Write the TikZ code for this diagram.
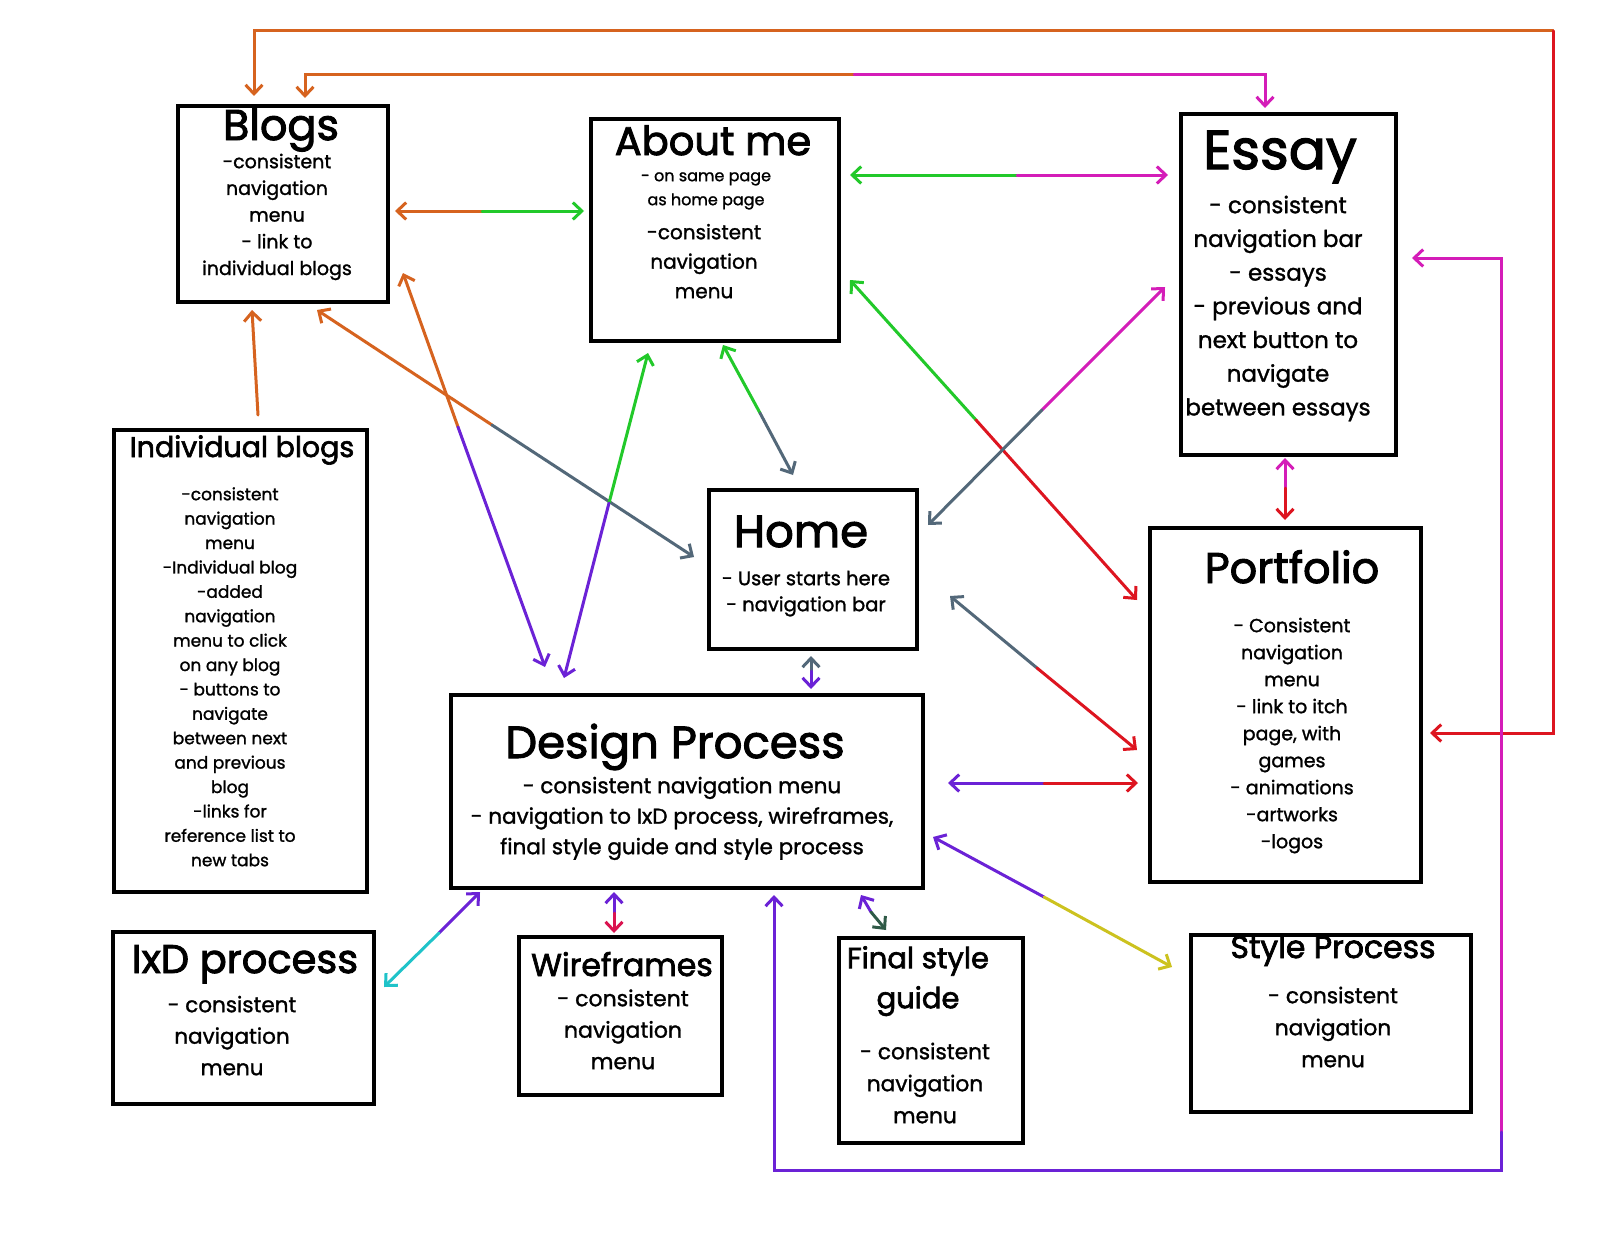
\documentclass[tikz,border=0pt]{standalone}
\usepackage{fontspec}
\setmainfont{Poppins}
\newfontfamily\ttlfont{Poppins}[FakeBold=2.2]
\newfontfamily\bodyfont{Poppins}[FakeBold=1.3]
\usetikzlibrary{arrows.meta}
\definecolor{corange}{HTML}{D6631F}
\definecolor{cgreen}{HTML}{22C92A}
\definecolor{cmag}{HTML}{D41DB8}
\definecolor{cred}{HTML}{DD1520}
\definecolor{cgray}{HTML}{536879}
\definecolor{cpurple}{HTML}{6B22D6}
\definecolor{ccyan}{HTML}{1FC3C9}
\definecolor{cyellow}{HTML}{CCC21F}
\definecolor{cdkgreen}{HTML}{2F5A47}
\definecolor{ccrimson}{HTML}{DA1450}
\newcommand\ttlat[5]{\node[ttl, font=\ttlfont\fontsize{#3}{#3}\selectfont] (#5) at (#1,#2) {#4};}
\newcommand\bodyat[6]{\node[body, font=\bodyfont\fontsize{#3}{#4}\selectfont] (#6) at (#1,#2-#3) {\rule{0pt}{#3pt}#5};}
\newcommand\ttlbodyat[6]{\node[body, font=\ttlfont\fontsize{#3}{#4}\selectfont] (#6) at (#1,#2-#3) {\rule{0pt}{#3pt}#5};}
\begin{document}
\begin{tikzpicture}[x=1pt,y=-1pt,
  box/.style={draw=black, line width=4pt, inner sep=0pt, anchor=north west},
  ttl/.style={anchor=base, inner sep=0pt},
  body/.style={anchor=north, inner sep=0pt, align=center},
  link/.style={line width=3pt, line cap=round},
  hs/.style={arrows={Straight Barb[length=9pt,width=17pt]-}},
  he/.style={arrows={-Straight Barb[length=9pt,width=17pt]}},
  ]
\fill[white] (0,0) rectangle (1600,1236);
\useasboundingbox (0,0) rectangle (1600,1236);

% ---------- boxes ----------
\node[box, minimum width=210pt, minimum height=196pt] (blogs) at (176,104) {};
\node[box, minimum width=248pt, minimum height=222pt] (about) at (589,117) {};
\node[box, minimum width=215pt, minimum height=341pt] (essay) at (1179,112) {};
\node[box, minimum width=253pt, minimum height=462pt] (indiv) at (112,428) {};
\node[box, minimum width=208pt, minimum height=159pt] (home) at (707,488) {};
\node[box, minimum width=271pt, minimum height=354pt] (portfolio) at (1148,526) {};
\node[box, minimum width=472pt, minimum height=193pt] (design) at (449,693) {};
\node[box, minimum width=261pt, minimum height=172pt] (ixd) at (111,930) {};
\node[box, minimum width=203pt, minimum height=158pt] (wire) at (517,935) {};
\node[box, minimum width=184pt, minimum height=205pt] (final) at (837,936) {};
\node[box, minimum width=280pt, minimum height=177pt] (style) at (1189,933) {};

% ---------- texts ----------
\ttlat{281}{140}{43}{Blogs}{blogsT}
\bodyat{277}{168}{19}{26.7}{-consistent\\navigation\\menu\\- link to\\individual blogs}{blogsB}

\ttlat{713}{155}{40}{About me}{aboutT}
\bodyat{706}{181}{16}{24}{- on same page\\as home page}{aboutS}
\bodyat{704}{239}{20}{29.5}{-consistent\\navigation\\menu}{aboutB}

\ttlat{1280}{169}{55}{Essay}{essayT}
\bodyat{1278}{213}{23}{33.7}{- consistent\\navigation bar\\- essays\\- previous and\\next button to\\navigate\\between essays}{essayB}

\ttlat{801}{547}{45}{Home}{homeT}
\bodyat{806}{585}{19.5}{26}{- User starts here\\- navigation bar}{homeB}

\ttlat{1292}{583}{43}{Portfolio}{portT}
\bodyat{1292}{632}{19}{27}{- Consistent\\navigation\\menu\\- link to itch\\page, with\\games\\- animations\\-artworks\\-logos}{portB}

\ttlat{242}{457}{28.5}{Individual blogs}{indivT}
\bodyat{230}{500}{17}{24.4}{-consistent\\navigation\\menu\\-Individual blog\\-added\\navigation\\menu to click\\on any blog\\- buttons to\\navigate\\between next\\and previous\\blog\\-links for\\reference list to\\new tabs}{indivB}

\ttlat{675}{758}{45}{Design Process}{designT}
\bodyat{682}{793}{21.5}{30.5}{- consistent navigation menu\\- navigation to IxD process, wireframes,\\final style guide and style process}{designB}

\ttlat{245}{973}{40}{IxD process}{ixdT}
\bodyat{232}{1012}{21.5}{31.5}{- consistent\\navigation\\menu}{ixdB}

\ttlat{622}{976}{31.5}{Wireframes}{wireT}
\bodyat{623}{1006}{22}{31.5}{- consistent\\navigation\\menu}{wireB}

\ttlbodyat{918}{968}{29}{40}{Final style\\guide}{finalT}
\bodyat{925}{1059}{21.7}{32}{- consistent\\navigation\\menu}{finalB}

\ttlat{1333}{958}{31.5}{Style Process}{styleT}
\bodyat{1333}{1003}{21.7}{32}{- consistent\\navigation\\menu}{styleB}

% ---------- connector points ----------
\coordinate (c1a) at (254,96);  \coordinate (c1b) at (254,31);
\coordinate (c1c) at (1553,31); \coordinate (c1d) at (1553,733);
\coordinate (c1e) at (1430,733);
\coordinate (c2a) at (305,98);  \coordinate (c2b) at (305,75);
\coordinate (c2c) at (854,75);  \coordinate (c2d) at (1265,75);
\coordinate (c2e) at (1265,108);
\coordinate (c3a) at (395,211); \coordinate (c3s) at (482,211); \coordinate (c3b) at (584,211);
\coordinate (c4a) at (850,175); \coordinate (c4s) at (1017,175); \coordinate (c4b) at (1168,175);
\coordinate (c5a) at (1412,258); \coordinate (c5b) at (1501,258);
\coordinate (c5s) at (1501,1132); \coordinate (c5c) at (1501,1170);
\coordinate (c5d) at (774,1170); \coordinate (c5e) at (774,895);
\coordinate (c6a) at (258,415); \coordinate (c6b) at (252,310);
\coordinate (c7a) at (317,310); \coordinate (c7s) at (492,425); \coordinate (c7b) at (694,557);
\coordinate (c8a) at (403,273); \coordinate (c8s) at (458,427); \coordinate (c8b) at (545,667);
\coordinate (c9a) at (648,353); \coordinate (c9s) at (609,503); \coordinate (c9b) at (564,678);
\coordinate (c10a) at (723,345); \coordinate (c10s) at (760,413); \coordinate (c10b) at (793,475);
\coordinate (c11a) at (850,280); \coordinate (c11s) at (976,420); \coordinate (c11b) at (1137,600);
\coordinate (c12a) at (1165,287); \coordinate (c12s) at (1042,410); \coordinate (c12b) at (928,525);
\coordinate (c13a) at (1285,458); \coordinate (c13s) at (1285,488); \coordinate (c13b) at (1285,520);
\coordinate (c14a) at (950,596); \coordinate (c14s) at (1037,668); \coordinate (c14b) at (1137,750);
\coordinate (c15a) at (811,656); \coordinate (c15s) at (811,671); \coordinate (c15b) at (811,689);
\coordinate (c16a) at (948,783); \coordinate (c16s) at (1044,783); \coordinate (c16b) at (1138,783);
\coordinate (c17a) at (933,837); \coordinate (c17s) at (1044,897); \coordinate (c17b) at (1172,967);
\coordinate (c18a) at (480,892); \coordinate (c18s) at (439,933); \coordinate (c18b) at (384,987);
\coordinate (c19a) at (614,892); \coordinate (c19s) at (614,913); \coordinate (c19b) at (614,933);
\coordinate (c20a) at (861,895); \coordinate (c20s) at (871,912); \coordinate (c20b) at (886,930);

% ---------- connectors ----------
\draw[link, corange, hs] (c1a) -- (c1b) -- (c1c);
\draw[link, cred, he] (c1c) -- (c1d) -- (c1e);
\draw[link, corange, hs] (c2a) -- (c2b) -- (c2c);
\draw[link, cmag, he] (c2c) -- (c2d) -- (c2e);
\draw[link, corange, hs] (c3a) -- (c3s);
\draw[link, cgreen, he] (c3s) -- (c3b);
\draw[link, cgreen, hs] (c4a) -- (c4s);
\draw[link, cmag, he] (c4s) -- (c4b);
\draw[link, cmag, hs] (c5a) -- (c5b) -- (c5s);
\draw[link, cpurple, he] (c5s) -- (c5c) -- (c5d) -- (c5e);
\draw[link, corange, he] (c6a) -- (c6b);
\draw[link, corange, hs] (c7a) -- (c7s);
\draw[link, cgray, he] (c7s) -- (c7b);
\draw[link, corange, hs] (c8a) -- (c8s);
\draw[link, cpurple, he] (c8s) -- (c8b);
\draw[link, cgreen, hs] (c9a) -- (c9s);
\draw[link, cpurple, he] (c9s) -- (c9b);
\draw[link, cgreen, hs] (c10a) -- (c10s);
\draw[link, cgray, he] (c10s) -- (c10b);
\draw[link, cgreen, hs] (c11a) -- (c11s);
\draw[link, cred, he] (c11s) -- (c11b);
\draw[link, cmag, hs] (c12a) -- (c12s);
\draw[link, cgray, he] (c12s) -- (c12b);
\draw[link, cmag, hs] (c13a) -- (c13s);
\draw[link, cred, he] (c13s) -- (c13b);
\draw[link, cgray, hs] (c14a) -- (c14s);
\draw[link, cred, he] (c14s) -- (c14b);
\draw[link, cgray, hs] (c15a) -- (c15s);
\draw[link, cpurple, he] (c15s) -- (c15b);
\draw[link, cpurple, hs] (c16a) -- (c16s);
\draw[link, cred, he] (c16s) -- (c16b);
\draw[link, cpurple, hs] (c17a) -- (c17s);
\draw[link, cyellow, he] (c17s) -- (c17b);
\draw[link, cpurple, hs] (c18a) -- (c18s);
\draw[link, ccyan, he] (c18s) -- (c18b);
\draw[link, cpurple, hs] (c19a) -- (c19s);
\draw[link, ccrimson, he] (c19s) -- (c19b);
\draw[link, cpurple, hs] (c20a) -- (c20s);
\draw[link, cdkgreen, he] (c20s) -- (c20b);
\end{tikzpicture}
\end{document}
